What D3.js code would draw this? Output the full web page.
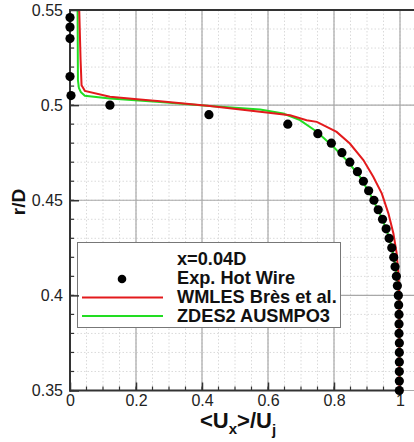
<!DOCTYPE html>
<html><head><meta charset="utf-8">
<script src="https://cdn.jsdelivr.net/npm/d3@7"></script>
<style>body{margin:0;background:#fff}svg{display:block}text{font-family:"Liberation Sans",Arial,sans-serif}</style>
</head><body><svg id="c" width="414" height="442"></svg>
<script>
const expX = [0.000,0.000,0.000,0.000,0.003,0.121,0.421,0.660,0.751,0.792,0.824,0.848,0.871,0.889,0.905,0.921,0.934,0.947,0.958,0.967,0.975,0.981,0.985,0.989,0.992,0.995,0.996,0.997,0.997,0.997,0.998,0.998,0.998,0.998,0.998,0.998];
const expR = [0.546,0.541,0.535,0.515,0.505,0.500,0.495,0.490,0.485,0.480,0.475,0.470,0.465,0.460,0.455,0.450,0.445,0.440,0.435,0.430,0.425,0.420,0.415,0.410,0.405,0.400,0.395,0.390,0.385,0.380,0.375,0.370,0.365,0.360,0.355,0.350];
const wmlesX = [0.028,0.032,0.035,0.045,0.121,0.212,0.273,0.424,0.576,0.667,0.717,0.748,0.778,0.808,0.848,0.889,0.919,0.945,0.965,0.980,0.990,0.995,0.998,0.998];
const wmlesR = [0.550,0.524,0.5105,0.5075,0.5044,0.503,0.5021,0.4995,0.4965,0.4947,0.4921,0.4912,0.4886,0.4859,0.4798,0.4711,0.4623,0.4535,0.443,0.4325,0.422,0.4114,0.3974,0.350];
const zdesX = [0.023,0.024,0.027,0.033,0.045,0.121,0.273,0.424,0.576,0.646,0.697,0.748,0.798,0.838,0.879,0.914,0.939,0.960,0.975,0.987,0.995,0.998,1.000];
const zdesR = [0.550,0.5132,0.509,0.5068,0.5049,0.5035,0.5017,0.4995,0.4977,0.4956,0.4921,0.486,0.4781,0.4711,0.4623,0.4517,0.443,0.4342,0.4254,0.4149,0.4044,0.3974,0.350];
const xTicks = [0,0.2,0.4,0.6,0.8,1];
const xTickLabels = ["0","0.2","0.4","0.6","0.8","1"];
const yTicks = [0.35,0.4,0.45,0.5,0.55];
const yTickLabels = ["0.35","0.4","0.45","0.5","0.55"];
const legendLabels = ["Exp. Hot Wire","WMLES Brès et al.","ZDES2 AUSMPO3"];
const legendTitle = "x=0.04D";

const svg = d3.select("#c");
const L=70, R=400, T=10, B=390.5;
const x = d3.scaleLinear().domain([0,1]).range([L,R]);
const y = d3.scaleLinear().domain([0.35,0.55]).range([B,T]);
const xMinor = d3.range(0,1.0001,0.05);
const yMinor = d3.range(0.35,0.5501,0.01);

const g = svg.append("g");
g.selectAll(".mgx").data(xMinor).join("line")
 .attr("x1",d=>x(d)).attr("x2",d=>x(d)).attr("y1",T).attr("y2",B)
 .attr("stroke","#dadada").attr("stroke-dasharray","1.5,2");
g.selectAll(".mgy").data(yMinor).join("line")
 .attr("x1",L).attr("x2",414).attr("y1",d=>y(d)).attr("y2",d=>y(d))
 .attr("stroke","#dadada").attr("stroke-dasharray","1.5,2");
g.selectAll(".Mgx").data(xTicks).join("line")
 .attr("x1",d=>x(d)).attr("x2",d=>x(d)).attr("y1",T).attr("y2",B)
 .attr("stroke","#a8a8a8").attr("stroke-width",1.2);
g.selectAll(".Mgy").data(yTicks).join("line")
 .attr("x1",L).attr("x2",414).attr("y1",d=>y(d)).attr("y2",d=>y(d))
 .attr("stroke","#a8a8a8").attr("stroke-width",1.2);

const lg = svg.append("g");
lg.append("rect").attr("x",77.5).attr("y",242.5).attr("width",263).attr("height",85)
 .attr("fill","#fff").attr("stroke","#777").attr("stroke-width",1);

const line = d3.line().x(d=>x(d[0])).y(d=>y(d[1]));
svg.append("path").datum(zdesX.map((v,i)=>[v,zdesR[i]])).attr("d",line)
 .attr("fill","none").attr("stroke","#22dd22").attr("stroke-width",2);
svg.append("path").datum(wmlesX.map((v,i)=>[v,wmlesR[i]])).attr("d",line)
 .attr("fill","none").attr("stroke","#e31a1c").attr("stroke-width",2);

const ax = svg.append("g").attr("transform",`translate(0,${B})`)
 .call(d3.axisBottom(x).tickValues(xTicks).tickFormat((d,i)=>xTickLabels[i]).tickSizeInner(-8).tickSizeOuter(0).tickPadding(4));
ax.select(".domain").remove();
ax.selectAll("text").attr("font-size",16).attr("fill","#222").attr("font-family","Liberation Sans, Arial, sans-serif");
ax.selectAll("line").attr("stroke","#333").attr("stroke-width",1.5);
svg.append("g").selectAll("line").data(xMinor).join("line")
 .attr("x1",d=>x(d)).attr("x2",d=>x(d)).attr("y1",B).attr("y2",B-4).attr("stroke","#333").attr("stroke-width",1.2);

const ay = svg.append("g").attr("transform",`translate(${L},0)`)
 .call(d3.axisLeft(y).tickValues(yTicks).tickFormat((d,i)=>yTickLabels[i]).tickSizeInner(-9).tickSizeOuter(0).tickPadding(7));
ay.select(".domain").remove();
ay.selectAll("text").attr("font-size",16).attr("fill","#222").attr("font-family","Liberation Sans, Arial, sans-serif");
ay.selectAll("line").attr("stroke","#333").attr("stroke-width",1.5);
svg.append("g").selectAll("line").data(yMinor).join("line")
 .attr("x1",L).attr("x2",L+4).attr("y1",d=>y(d)).attr("y2",d=>y(d)).attr("stroke","#333").attr("stroke-width",1.2);

svg.append("line").attr("x1",L).attr("x2",L).attr("y1",T).attr("y2",B+1).attr("stroke","#333").attr("stroke-width",2);
svg.append("line").attr("x1",L-1).attr("x2",403).attr("y1",B).attr("y2",B).attr("stroke","#333").attr("stroke-width",2);
svg.append("line").attr("x1",L-1).attr("x2",414).attr("y1",T).attr("y2",T).attr("stroke","#333").attr("stroke-width",2);

svg.append("g").selectAll("circle").data(expX.map((v,i)=>[v,expR[i]])).join("circle")
 .attr("cx",d=>x(d[0])).attr("cy",d=>y(d[1])).attr("r",4.6).attr("fill","#000");

const fs=18.2;
lg.append("text").attr("x",177).attr("y",265).attr("font-size",fs).attr("font-weight","bold").attr("fill","#111").text(legendTitle);
lg.append("circle").attr("cx",122).attr("cy",279).attr("r",4.3).attr("fill","#000");
lg.append("text").attr("x",177).attr("y",284).attr("font-size",fs).attr("font-weight","bold").attr("fill","#111").text(legendLabels[0]);
lg.append("line").attr("x1",82).attr("x2",163).attr("y1",297.5).attr("y2",297.5).attr("stroke","#e31a1c").attr("stroke-width",2);
lg.append("text").attr("x",177).attr("y",303).attr("font-size",fs).attr("font-weight","bold").attr("fill","#111").text(legendLabels[1]);
lg.append("line").attr("x1",82).attr("x2",163).attr("y1",316).attr("y2",316).attr("stroke","#22dd22").attr("stroke-width",2);
lg.append("text").attr("x",177).attr("y",322).attr("font-size",fs).attr("font-weight","bold").attr("fill","#111").text(legendLabels[2]);

const xt = svg.append("text").attr("x",200).attr("y",428).attr("font-size",22).attr("font-weight","bold").attr("fill","#111");
xt.append("tspan").text("<U");
xt.append("tspan").attr("font-size",15).attr("dy",6).text("x");
xt.append("tspan").attr("dy",-6).text(">/U");
xt.append("tspan").attr("font-size",15).attr("dy",7).text("j");
svg.append("text").attr("transform","translate(25,202) rotate(-90)").attr("text-anchor","middle")
 .attr("font-size",19).attr("font-weight","bold").attr("fill","#111").text("r/D");
</script></body></html>
